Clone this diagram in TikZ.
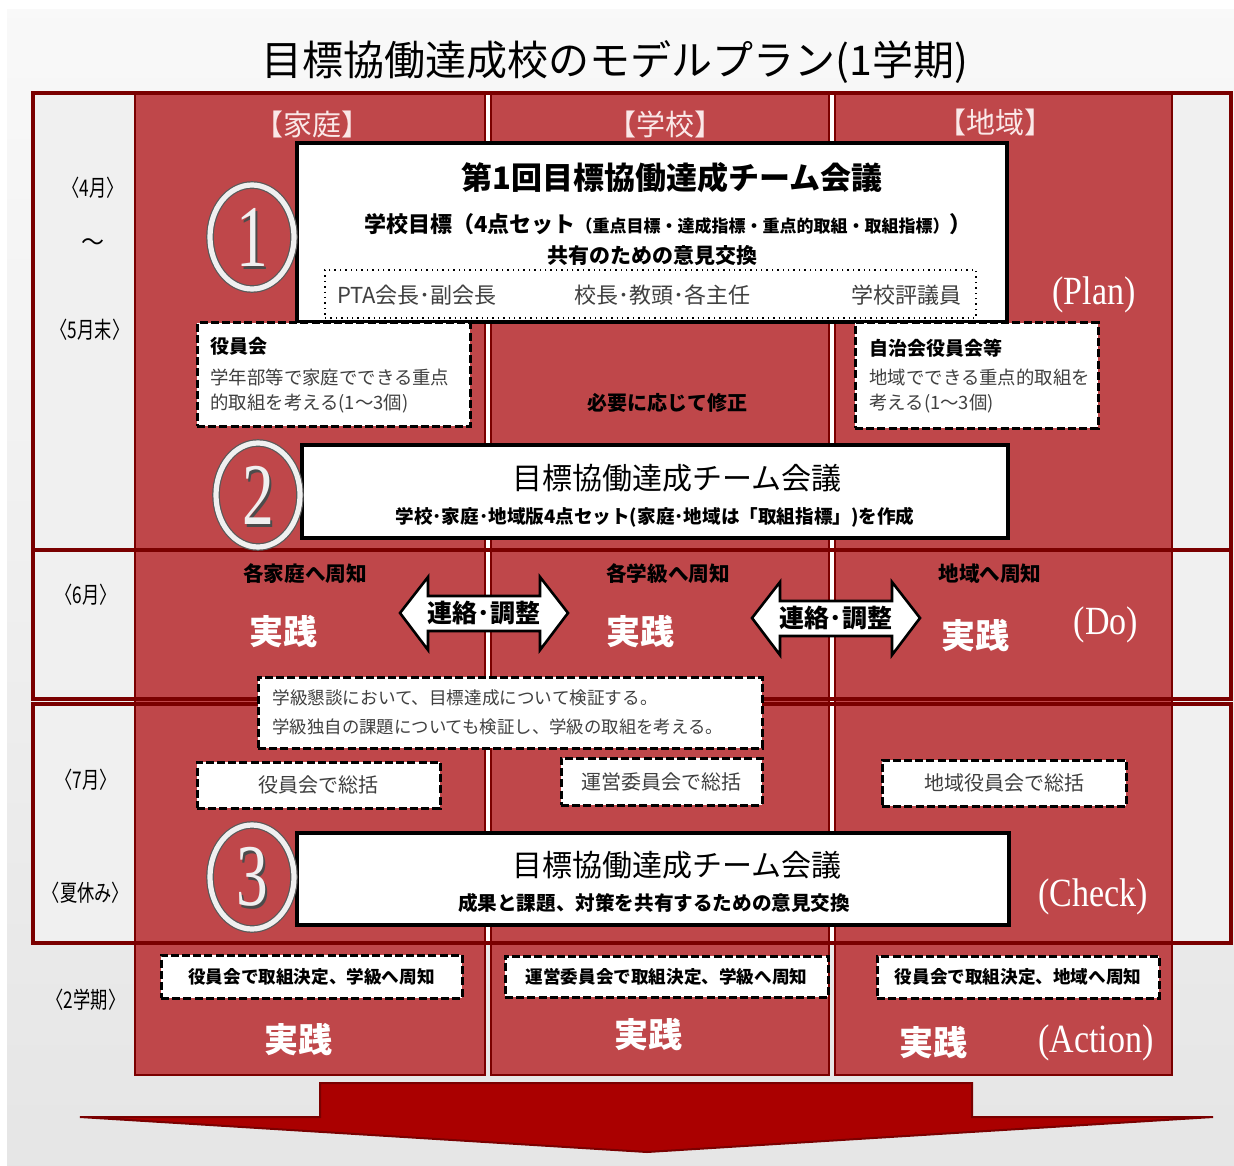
\documentclass[tikz,border=0pt]{standalone}
\usepackage{fontspec}
\setmainfont{Noto Sans CJK JP}
\newfontfamily\serifL{Liberation Serif}
\usetikzlibrary{shapes.geometric}
\definecolor{colRed}{RGB}{191,71,74}
\definecolor{frameRed}{RGB}{122,0,0}
\definecolor{arrowRed}{RGB}{170,0,0}
\definecolor{txtGray}{RGB}{64,64,64}
\definecolor{hdrPink}{RGB}{250,232,232}
\definecolor{cellGray}{RGB}{240,240,240}
\newcommand\setfs[1]{\fontsize{#1}{#1}\selectfont}
\begin{document}
\begin{tikzpicture}[x=0.5pt,y=-0.5pt,
  colbox/.style={fill=colRed, draw=frameRed, line width=1.4pt},
  rowframe/.style={draw=frameRed, line width=1.6pt},
  cellbg/.style={fill=cellGray},
  meetbox/.style={draw=black, fill=white, line width=1.6pt, inner sep=0pt},
  dashbox/.style={draw=black, fill=white, line width=1.5pt, dash pattern=on 4pt off 1.6pt, inner sep=0pt},
  dotbox/.style={draw=black, line width=0.7pt, dotted, inner sep=0pt},
  lbl/.style={inner sep=0pt, text=black},
  glbl/.style={inner sep=0pt, text=txtGray},
  monthlbl/.style={inner sep=0pt, text=black, font=\setfs{11.5}},
  pdca/.style={inner sep=0pt, text=white, font=\serifL\setfs{20}},
  jissen/.style={inner sep=0pt, text=white, font=\setfs{17}\bfseries},
  hdr/.style={inner sep=0pt, text=hdrPink, font=\setfs{14.5}},
  ring/.style={ellipse, draw=black!65, line width=0.6pt, double=gray!12, double distance=2.6pt, minimum width=42pt, minimum height=52pt, inner sep=0pt},
  digitdark/.style={inner sep=0pt, text=black!70, font=\serifL\setfs{44}},
  digitlight/.style={inner sep=0pt, text=gray!12, font=\serifL\setfs{44}},
  linkarrow/.style={draw=black, fill=white, line width=1.3pt, line join=miter}
]
\useasboundingbox (0,0) rectangle (1234,1165);
% background
\fill[white] (0,0) rectangle (1234,1165);
\shade[top color=gray!5, bottom color=gray!20] (7,10) rectangle (1234,1165);

% title
\node[lbl, font=\setfs{20.5}] (title) at (615,62) {目標協働達成校のモデルプラン(1学期)};

% light cells inside row frames
\fill[cellbg] (33,93) rectangle (135,943);
\fill[cellbg] (1172,93) rectangle (1231,943);
% white gaps between columns inside frames
\fill[white] (485,93) rectangle (491,943);
\fill[white] (829,93) rectangle (835,943);

% red columns
\draw[colbox] (135,93) rectangle (485,1075);
\draw[colbox] (491,93) rectangle (829,1075);
\draw[colbox] (835,93) rectangle (1172,1075);

% row frames
\draw[rowframe] (33,93) rectangle (1231,550);
\draw[rowframe] (33,550) rectangle (1231,699);
\draw[rowframe] (33,704) rectangle (1231,943);

% column headers
\node[hdr] (hKatei) at (312,124) {【家庭】};
\node[hdr] (hGakko) at (665,124) {【学校】};
\node[hdr] (hChiiki) at (995,122) {【地域】};

% month labels
\node[monthlbl] (m4) at (93,188) {\scalebox{0.75}[1]{〈4月〉}};
\node[monthlbl] (mtilde) at (93,245) {～};
\node[monthlbl] (m5) at (90,330) {\scalebox{0.75}[1]{〈5月末〉}};
\node[monthlbl] (m6) at (86,595) {\scalebox{0.75}[1]{〈6月〉}};
\node[monthlbl] (m7) at (86,780) {\scalebox{0.75}[1]{〈7月〉}};
\node[monthlbl] (mnatsu) at (86,893) {\scalebox{0.75}[1]{〈夏休み〉}};
\node[monthlbl] (m2g) at (86,1000) {\scalebox{0.75}[1]{〈2学期〉}};

% PDCA labels
\node[pdca] (pPlan) at (1094,295) {\scalebox{0.85}[1]{(Plan)}};
\node[pdca] (pDo) at (1106,625) {\scalebox{0.85}[1]{(Do)}};
\node[pdca] (pCheck) at (1093,897) {\scalebox{0.85}[1]{(Check)}};
\node[pdca] (pAction) at (1096,1043) {\scalebox{0.85}[1]{(Action)}};

% ===== Row 1 (Plan) =====
\node[meetbox, minimum width=355pt, minimum height=89.5pt] (meet1) at (652,232.5) {};
\node[lbl, font=\setfs{15.5}\bfseries] (m1a) at (672,178) {第1回目標協働達成チーム会議};
\node[lbl] (m1b) at (668,224) {{\setfs{11}\bfseries 学校目標（4点セット}{\setfs{8.5}\bfseries （重点目標・達成指標・重点的取組・取組指標）}{\setfs{11}\bfseries ）}};
\node[lbl, font=\setfs{10.5}\bfseries] (m1c) at (652,256) {共有のための意見交換};
\node[dotbox, minimum width=325.5pt, minimum height=24pt] (members) at (650.5,294) {};
\node[glbl, font=\setfs{11}] (mem1) at (417,295) {PTA会長･副会長};
\node[glbl, font=\setfs{11}] (mem2) at (662,295) {校長･教頭･各主任};
\node[glbl, font=\setfs{11}] (mem3) at (906,295) {学校評議員};

\node[ring] (c1) at (252,237) {};
\node[digitdark] (d1s) at (254,240) {\scalebox{0.72}[1]{1}};
\node[digitlight] (d1) at (252,237) {\scalebox{0.72}[1]{1}};

\node[dashbox, minimum width=136.5pt, minimum height=51.5pt] (yakuin) at (333.5,374.5) {};
\node[lbl, anchor=west, font=\setfs{9.5}\bfseries] (yak1) at (210,346) {役員会};
\node[glbl, anchor=west, font=\setfs{9.2}] (yak2) at (210,377) {学年部等で家庭でできる重点};
\node[glbl, anchor=west, font=\setfs{9.2}] (yak3) at (210,404) {的取組を考える(1～3個)};

\node[dashbox, minimum width=121.5pt, minimum height=52.5pt] (jichi) at (976.5,375.5) {};
\node[lbl, anchor=west, font=\setfs{9.5}\bfseries] (ji1) at (869,348) {自治会役員会等};
\node[glbl, anchor=west, font=\setfs{9.2}] (ji2) at (869,377) {地域でできる重点的取組を};
\node[glbl, anchor=west, font=\setfs{9.2}] (ji3) at (869,404) {考える(1～3個)};

\node[lbl, font=\setfs{10}\bfseries] (shusei) at (667,403) {必要に応じて修正};

\node[meetbox, minimum width=353pt, minimum height=46.5pt] (meet2) at (655,491.5) {};
\node[lbl, font=\setfs{15}] (m2a) at (677,478) {目標協働達成チーム会議};
\node[lbl, font=\setfs{9.3}\bfseries] (m2b) at (655,517) {学校･家庭･地域版4点セット(家庭･地域は「取組指標」)を作成};

\node[ring] (c2) at (258,495) {};
\node[digitdark] (d2s) at (260,498) {\scalebox{0.72}[1]{2}};
\node[digitlight] (d2) at (258,495) {\scalebox{0.72}[1]{2}};

% ===== Row 2 (Do) =====
\node[lbl, font=\setfs{10.3}\bfseries] (shuchi1) at (305,574) {各家庭へ周知};
\node[lbl, font=\setfs{10.3}\bfseries] (shuchi2) at (668,574) {各学級へ周知};
\node[lbl, font=\setfs{10.3}\bfseries] (shuchi3) at (990,574) {地域へ周知};
\node[jissen] (js1) at (283,632) {実践};
\node[jissen] (js2) at (640,632) {実践};
\node[jissen] (js3) at (975,636) {実践};

\draw[linkarrow] (400,613) -- (428,577) -- (428,596) -- (540,596) -- (540,577) -- (568,613) -- (540,650) -- (540,631) -- (428,631) -- (428,650) -- cycle;
\node[lbl, font=\setfs{12.5}\bfseries] (renraku1) at (484,613) {連絡･調整};
\draw[linkarrow] (752,618) -- (780,582) -- (780,601) -- (892,601) -- (892,582) -- (920,618) -- (892,655) -- (892,636) -- (780,636) -- (780,655) -- cycle;
\node[lbl, font=\setfs{12.5}\bfseries] (renraku2) at (836,618) {連絡･調整};

\node[dashbox, minimum width=252pt, minimum height=35.5pt] (kondan) at (510,712.5) {};
\node[glbl, anchor=west, font=\setfs{8.8}] (kon1) at (272,698) {学級懇談において、目標達成について検証する。};
\node[glbl, anchor=west, font=\setfs{8.7}] (kon2) at (272,727) {学級独自の課題についても検証し、学級の取組を考える。};

% ===== Row 3 (Check) =====
\node[dashbox, minimum width=121.5pt, minimum height=23pt, text=txtGray, font=\setfs{10}] (sokatsu1) at (318.5,785) {役員会で総括};
\node[dashbox, minimum width=100.5pt, minimum height=23.5pt, text=txtGray, font=\setfs{10}] (sokatsu2) at (661.5,781.5) {運営委員会で総括};
\node[dashbox, minimum width=122pt, minimum height=23pt, text=txtGray, font=\setfs{10}] (sokatsu3) at (1004,783) {地域役員会で総括};

\node[meetbox, minimum width=356pt, minimum height=46pt] (meet3) at (653,879) {};
\node[lbl, font=\setfs{15}] (m3a) at (677,865) {目標協働達成チーム会議};
\node[lbl, font=\setfs{9.8}\bfseries] (m3b) at (654,903) {成果と課題、対策を共有するための意見交換};

\node[ring] (c3) at (252,877) {};
\node[digitdark] (d3s) at (254,880) {\scalebox{0.72}[1]{3}};
\node[digitlight] (d3) at (252,877) {\scalebox{0.72}[1]{3}};

% ===== Row 4 (Action) =====
\node[dashbox, minimum width=150.5pt, minimum height=21.5pt, font=\setfs{8.8}\bfseries] (kettei1) at (311.5,976.5) {役員会で取組決定、学級へ周知};
\node[dashbox, minimum width=161.5pt, minimum height=20.5pt, font=\setfs{8.8}\bfseries] (kettei2) at (666.5,976.5) {運営委員会で取組決定、学級へ周知};
\node[dashbox, minimum width=141pt, minimum height=21pt, font=\setfs{8.8}\bfseries] (kettei3) at (1018,977) {役員会で取組決定、地域へ周知};
\node[jissen] (js4) at (298,1040) {実践};
\node[jissen] (js5) at (648,1035) {実践};
\node[jissen] (js6) at (933,1043) {実践};

% bottom arrow
\draw[fill=arrowRed, draw=frameRed, line width=1pt, line join=miter] (320,1083) -- (972,1083) -- (972,1117) -- (1213,1117) -- (647,1152) -- (80,1117) -- (320,1117) -- cycle;
\end{tikzpicture}
\end{document}
